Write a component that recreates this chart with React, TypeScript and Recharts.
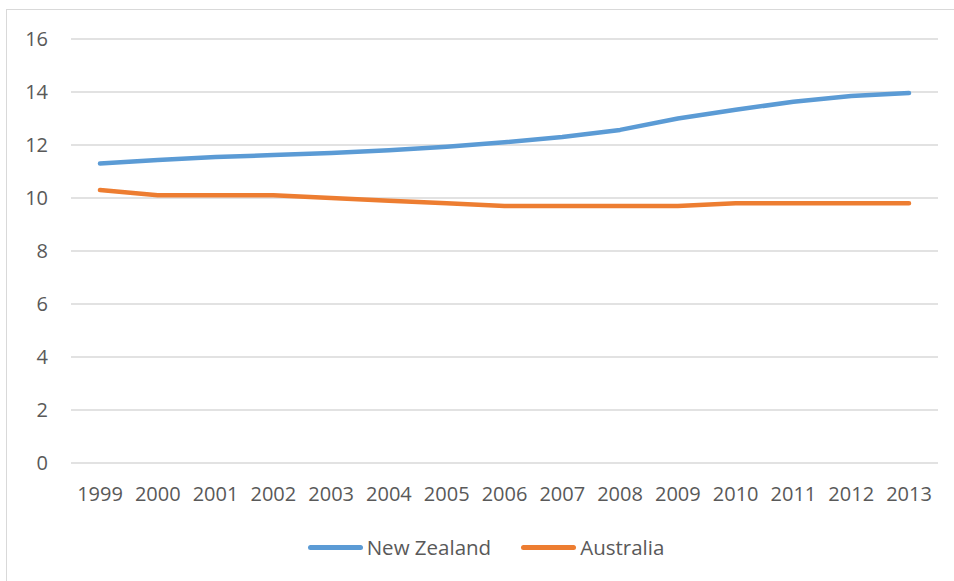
import React from "react";
import { LineChart, Line, XAxis, YAxis, CartesianGrid, Legend } from "recharts";

const years = ["1999","2000","2001","2002","2003","2004","2005","2006","2007","2008","2009","2010","2011","2012","2013"];
const newZealand = [11.3, 11.43, 11.55, 11.62, 11.7, 11.8, 11.93, 12.1, 12.3, 12.57, 13.0, 13.33, 13.63, 13.85, 13.96];
const australia = [10.3, 10.1, 10.1, 10.1, 10.0, 9.9, 9.8, 9.7, 9.7, 9.7, 9.7, 9.8, 9.8, 9.8, 9.8];
const yTicks = [0, 2, 4, 6, 8, 10, 12, 14, 16];
const seriesOrder = ["nz", "au"];

const data = years.map((y, i) => ({ year: y, nz: newZealand[i], au: australia[i] }));

const FONT = "'Open Sans', sans-serif";
const TEXT = "#595959";

const LegendContent = (props: any) => {
  const payload = [...(props.payload || [])].sort(
    (a: any, b: any) => seriesOrder.indexOf(a.dataKey) - seriesOrder.indexOf(b.dataKey)
  );
  return (
    <div style={{ display: "flex", justifyContent: "center", alignItems: "center", height: 40, paddingLeft: 34, fontFamily: FONT, fontSize: 20.5, color: TEXT }}>
      {payload.map((p: any, i: number) => (
        <div key={i} style={{ display: "flex", alignItems: "center", marginLeft: i === 0 ? 0 : 30 }}>
          <span style={{ display: "inline-block", width: 55, height: 5, borderRadius: 3, background: p.color, marginRight: 4 }} />
          <span>{p.value}</span>
        </div>
      ))}
    </div>
  );
};

export default function App() {
  return (
    <div style={{ position: "absolute", left: 0, top: 0, width: 954, height: 581, overflow: "hidden", background: "#fff" }}>
      <div style={{ position: "absolute", left: 6, top: 9, width: 1000, height: 700, border: "1px solid #d9d9d9", boxSizing: "border-box" }} />
      <div style={{ position: "absolute", left: 0, top: 0 }}>
        <LineChart width={954} height={581} data={data} margin={{ top: 39, right: 16, bottom: 14, left: 0 }}>
          <CartesianGrid vertical={false} stroke="#d9d9d9" strokeWidth={1.3} />
          <XAxis
            dataKey="year"
            axisLine={false}
            tickLine={false}
            height={64}
            padding={{ left: 29, right: 29 }}
            tickMargin={18}
            tick={{ fill: TEXT, fontSize: 20, fontFamily: FONT }}
            interval={0}
          />
          <YAxis
            width={71}
            domain={[0, 16]}
            ticks={yTicks}
            axisLine={false}
            tickLine={false}
            tickMargin={17}
            tick={{ fill: TEXT, fontSize: 20, fontFamily: FONT }}
          />
          <Legend verticalAlign="bottom" content={<LegendContent />} />
          <Line dataKey="nz" name="New Zealand" stroke="#5b9bd5" strokeWidth={4.5} strokeLinecap="round" strokeLinejoin="round" dot={false} isAnimationActive={false} />
          <Line dataKey="au" name="Australia" stroke="#ed7d31" strokeWidth={4.5} strokeLinecap="round" strokeLinejoin="round" dot={false} isAnimationActive={false} />
        </LineChart>
      </div>
    </div>
  );
}
